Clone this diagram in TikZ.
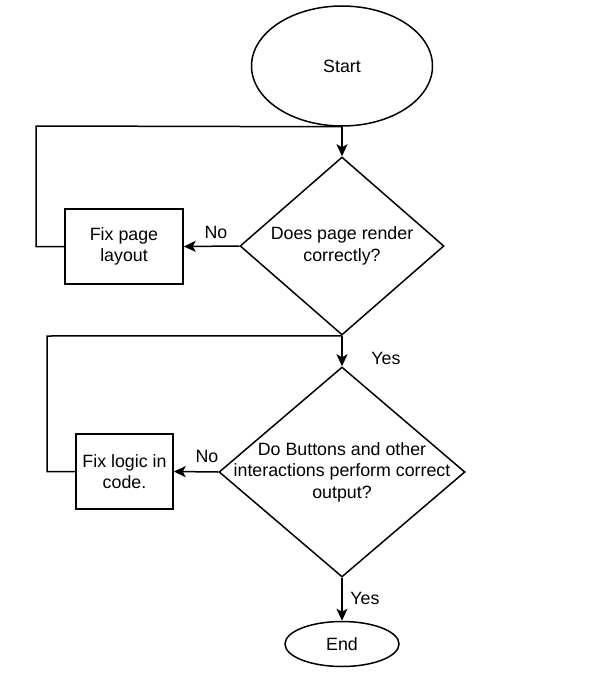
\documentclass[tikz,border=0pt]{standalone}
\usepackage{fontspec}
\setmainfont{Liberation Sans}
\usetikzlibrary{shapes.geometric,arrows.meta}
\begin{document}
\begin{tikzpicture}[x=1pt,y=-1pt,
  every node/.style={font=\fontsize{17.8}{21.5}\selectfont},
  shapeline/.style={draw=black,line width=1.5pt},
  oval/.style={shapeline,ellipse,inner sep=0pt},
  decision/.style={shapeline,diamond,inner sep=0pt},
  procbox/.style={shapeline,rectangle,inner sep=0pt,align=center},
  conn/.style={line width=1.5pt},
  arr/.style={conn,-{Stealth[length=12pt,width=11pt,inset=3pt]}},
  lbl/.style={inner sep=0pt}
]
\useasboundingbox (0,0) rectangle (592,685);
\node[oval,minimum width=181pt,minimum height=120pt] (start) at (342,66) {Start};
\node[decision,minimum width=204pt,minimum height=178pt,
  label={[align=center]center:Does page render\\correctly?}] (d1) at (342,246) {};
\node[procbox,minimum width=118pt,minimum height=75pt] (r1) at (124,246.5) {Fix page\\layout};
\node[decision,minimum width=246pt,minimum height=210pt,
  label={[align=center]center:Do Buttons and other\\interactions perform correct\\output?}] (d2) at (342,472) {};
\node[procbox,minimum width=97pt,minimum height=75pt] (r2) at (124.5,471.5) {Fix logic in\\code.};
\node[oval,minimum width=114pt,minimum height=45pt] (end) at (342,644) {End};
\coordinate (c1) at (36,126);
\coordinate (c2) at (47,336);
\draw[arr] (start.south) -- (d1.north);
\draw[arr] (d1.west) -- (r1.east);
\draw[conn] (r1.west) -| (c1) -- (start.south);
\draw[arr] (d1.south) -- (d2.north);
\draw[arr] (d2.west) -- (r2.east);
\draw[conn] (r2.west) -| (c2) -- (d1.south);
\draw[arr] (d2.south) -- (end.north);
\node[lbl] (no1) at (216,232) {No};
\node[lbl] (yes1) at (386,358) {Yes};
\node[lbl] (no2) at (207,456) {No};
\node[lbl] (yes2) at (365,598) {Yes};
\end{tikzpicture}
\end{document}
